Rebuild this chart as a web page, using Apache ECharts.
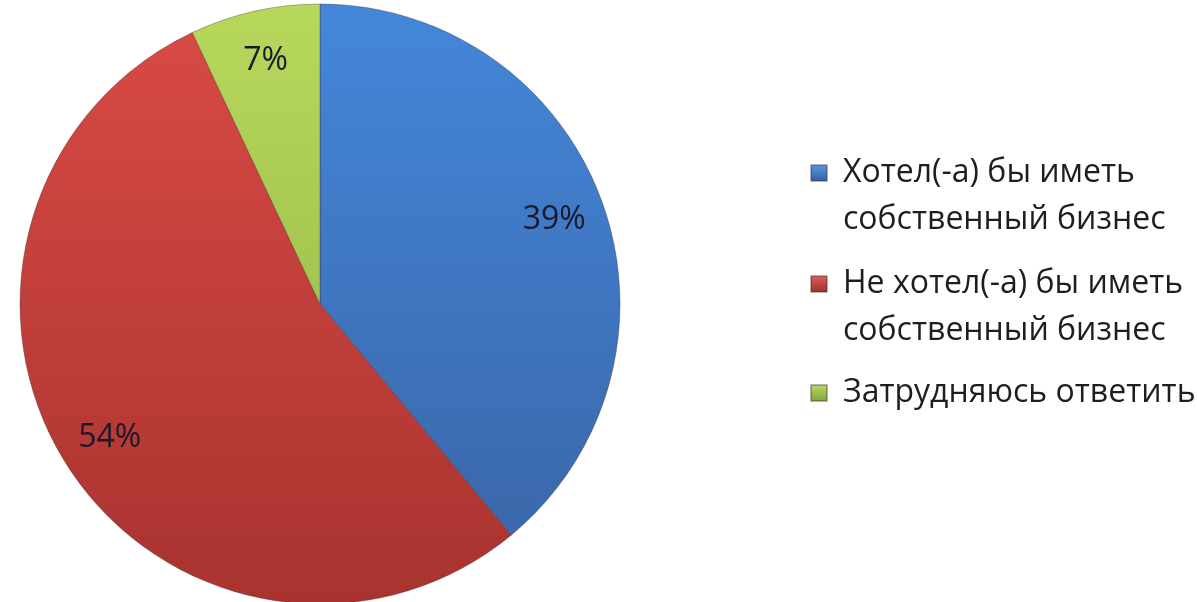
<!DOCTYPE html>
<html>
<head>
<meta charset="utf-8">
<script src="https://cdn.jsdelivr.net/npm/echarts@6/dist/echarts.min.js"></script>
<style>
html,body{margin:0;padding:0;background:#fff;}
#chart{width:1197px;height:602px;}
</style>
</head>
<body>
<div id="chart"></div>
<script>
// Data
const categories = [
  'Хотел(-а) бы иметь\nсобственный бизнес',
  'Не хотел(-а) бы иметь\nсобственный бизнес',
  'Затрудняюсь ответить'
];
const values = [39, 54, 7];
const valueLabels = ['39%', '54%', '7%'];

const FONT = '"Open Sans", "Noto Sans", sans-serif';
const LINE_H = 47;
const FONT_SIZE = 32;

function lin(c1, c2) {
  return {type: 'linear', x: 0, y: 0, x2: 0, y2: 602, global: true,
    colorStops: [{offset: 0, color: c1}, {offset: 1, color: c2}]};
}
function icon(c1, c2) {
  return {type: 'linear', x: 0, y: 0, x2: 0, y2: 1,
    colorStops: [{offset: 0, color: c1}, {offset: 1, color: c2}]};
}
const sliceColors = [
  lin('#4487DA', '#3964A4'),
  lin('#DA4B46', '#A8332F'),
  lin('#B8D85C', '#8FB043')
];
const iconColors = [
  icon('#5C9BE6', '#2E5E9E'),
  icon('#E0605A', '#9C2E2A'),
  icon('#BEDB6A', '#7FA13A')
];

const pieCenter = [320, 304];
const pieR = 300;

const iconCenters = [173, 284, 393];

const legends = categories.map((name, i) => {
  const twoLine = name.indexOf('\n') >= 0;
  const h = twoLine ? LINE_H * 3 : LINE_H;
  return {
    left: 810,
    top: iconCenters[i] - h / 2,
    orient: 'vertical',
    padding: 0,
    itemWidth: 16,
    itemHeight: 16,
    selectedMode: false,
    icon: 'rect',
    formatter: twoLine ? (n) => '\n' + n : (n) => n,
    data: [{
      name: name,
      itemStyle: {color: iconColors[i]},
      textStyle: {
        fontFamily: FONT, fontSize: FONT_SIZE, color: '#1e1e1e',
        lineHeight: LINE_H,
        padding: [0, 0, 0, 11]
      }
    }]
  };
});

const option = {
  backgroundColor: '#ffffff',
  animation: false,
  legend: legends,
  series: [
    {
      type: 'pie',
      center: pieCenter,
      radius: [0, pieR],
      startAngle: 90,
      clockwise: true,
      silent: true,
      label: {show: false},
      labelLine: {show: false},
      itemStyle: {borderColor: 'rgba(60,40,40,0.35)', borderWidth: 1},
      data: categories.map((n, i) => ({name: n, value: values[i], itemStyle: {color: sliceColors[i]}}))
    },
    {
      type: 'pie',
      center: pieCenter,
      radius: [pieR * 0.64, pieR],
      startAngle: 90,
      clockwise: true,
      silent: true,
      legendHoverLink: false,
      itemStyle: {color: 'rgba(0,0,0,0)', borderWidth: 0},
      label: {
        show: true,
        position: 'inside',
        fontFamily: FONT,
        fontSize: FONT_SIZE,
        color: '#1a1a2a',
        formatter: (p) => valueLabels[p.dataIndex]
      },
      labelLine: {show: false},
      data: categories.map((n, i) => ({name: n, value: values[i]}))
    }
  ]
};

const chart = echarts.init(document.getElementById('chart'), null, {renderer: 'canvas'});
chart.setOption(option);
</script>
</body>
</html>
